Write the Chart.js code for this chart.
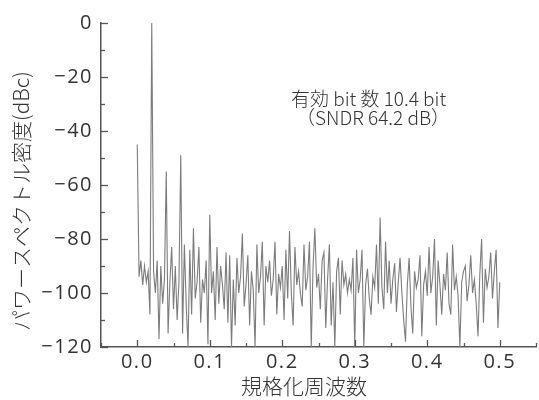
<!DOCTYPE html>
<html>
<head>
<meta charset="utf-8">
<script src="https://cdn.jsdelivr.net/npm/chart.js@4.4.1/dist/chart.umd.min.js"></script>
<style>
  html, body { margin: 0; padding: 0; background: #fff; }
  #wrap { width: 539px; height: 400px; }
</style>
</head>
<body>
<div id="wrap"><canvas id="psd" width="539" height="400"></canvas></div>
<script>
// FFT bin spacing (normalised frequency) and power spectral density per bin, dBc
const binWidth = 0.0025;
const psdDb = [
  -45, -94, -88, -97, -90, -96, -92, -108, 0, -92,
  -100, -88, -117, -90, -104, -95, -55, -115, -96, -83,
  -106, -90, -110, -96, -49, -115, -82, -104, -120, -84,
  -108, -76, -102, -96, -83, -111, -95, -100, -88, -119,
  -71, -100, -92, -110, -83, -104, -90, -97, -106, -85,
  -111, -86, -120, -95, -112, -87, -100, -94, -78, -105,
  -97, -86, -112, -92, -99, -120, -82, -100, -94, -81,
  -112, -90, -96, -88, -101, -95, -81, -108, -93, -98,
  -90, -110, -84, -102, -77, -100, -112, -83, -97, -92,
  -100, -105, -82, -99, -94, -81, -120, -90, -76, -98,
  -93, -106, -88, -85, -113, -95, -82, -112, -96, -120,
  -92, -87, -108, -88, -97, -93, -100, -95, -99, -87,
  -120, -84, -100, -95, -84, -120, -97, -91, -102, -108,
  -94, -98, -82, -104, -72, -98, -106, -81, -100, -88,
  -104, -95, -89, -107, -96, -87, -100, -110, -118, -97,
  -87, -105, -115, -92, -98, -95, -86, -116, -97, -92,
  -101, -83, -100, -94, -80, -112, -88, -97, -108, -93,
  -99, -85, -104, -108, -82, -99, -94, -101, -120, -96,
  -92, -90, -103, -97, -86, -100, -95, -104, -116, -93,
  -80, -111, -91, -98, -94, -85, -102, -92, -84, -113,
  -96
];
const xTicks = [0, 0.1, 0.2, 0.3, 0.4, 0.5];
const yTicks = [-120, -100, -80, -60, -40, -20, 0];
const noteLines = ['有効 bit 数 10.4 bit', '（SNDR 64.2 dB）'];
const xTitle = '規格化周波数';
const yTitle = 'パワースペクトル密度(dBc)';

const FONT = '"Noto Sans CJK JP", "Noto Sans", sans-serif';
const NUM_FONT = '"Open Sans", "Noto Sans", sans-serif';
const INK = '#333';
const AXIS = '#555';

const points = psdDb.map((v, i) => ({ x: i * binWidth, y: v }));

const isMajor = (v, list) => list.some(t => Math.abs(t - v) < 1e-6);

// inward ticks, titles and the note
const decor = {
  id: 'decor',
  beforeDraw(chart) {
    chart.ctx.letterSpacing = '1.5px';
  },
  afterDraw(chart) {
    const ctx = chart.ctx;
    const area = chart.chartArea;
    const xs = chart.scales.x, ys = chart.scales.y;
    ctx.save();
    ctx.letterSpacing = '0px';
    ctx.strokeStyle = AXIS;
    ctx.lineWidth = 1.3;
    xs.ticks.forEach(t => {
      const px = Math.round(xs.getPixelForValue(t.value)) + 0.5;
      const len = isMajor(t.value, xTicks) ? 7 : 4;
      ctx.beginPath();
      ctx.moveTo(px, area.bottom);
      ctx.lineTo(px, area.bottom - len);
      ctx.stroke();
    });
    ys.ticks.forEach(t => {
      const py = Math.round(ys.getPixelForValue(t.value)) + 0.5;
      const len = isMajor(t.value, yTicks) ? 7 : 4;
      ctx.beginPath();
      ctx.moveTo(area.left, py);
      ctx.lineTo(area.left + len, py);
      ctx.stroke();
    });

    ctx.fillStyle = INK;
    ctx.textBaseline = 'middle';
    ctx.textAlign = 'center';
    ctx.font = '300 21px ' + FONT;
    ctx.fillText(xTitle, 304, 386);

    ctx.save();
    ctx.translate(21, 201);
    ctx.rotate(-Math.PI / 2);
    ctx.font = '300 21px ' + FONT;
    ctx.fillText(yTitle, 0, 0);
    ctx.restore();

    ctx.textAlign = 'left';
    ctx.font = '300 19px ' + FONT;
    ctx.fillText(noteLines[0], 291, 99);
    ctx.fillText(noteLines[1], 296, 118);
    ctx.restore();
  }
};

new Chart('psd', {
  type: 'line',
  data: {
    datasets: [{
      data: points,
      borderColor: '#7c7c7c',
      borderWidth: 1.1,
      pointRadius: 0,
      tension: 0,
      fill: false
    }]
  },
  options: {
    responsive: false,
    animation: false,
    layout: { padding: { top: 23, right: 2, left: 0, bottom: 0 } },
    plugins: { legend: { display: false }, tooltip: { enabled: false } },
    scales: {
      x: {
        type: 'linear',
        min: -0.05,
        max: 0.55,
        grid: { display: false, drawTicks: false },
        border: { display: true, color: AXIS, width: 1.5 },
        ticks: {
          stepSize: 0.05,
          autoSkip: false,
          maxRotation: 0,
          padding: 3,
          color: INK,
          font: { family: NUM_FONT, size: 20, weight: 400 },
          callback: v => isMajor(v, xTicks) ? v.toFixed(1) : ''
        },
        afterFit: s => { s.height = 53; }
      },
      y: {
        min: -120,
        max: 0,
        grid: { display: false, drawTicks: false },
        border: { display: true, color: AXIS, width: 1.5 },
        ticks: {
          stepSize: 10,
          autoSkip: false,
          padding: 8,
          color: INK,
          font: { family: NUM_FONT, size: 20, weight: 400 },
          callback: v => isMajor(v, yTicks) ? (v === 0 ? '0' : '\u2212' + Math.abs(v)) : ''
        },
        afterFit: s => { s.width = 101; }
      }
    }
  },
  plugins: [decor]
});
</script>
</body>
</html>
